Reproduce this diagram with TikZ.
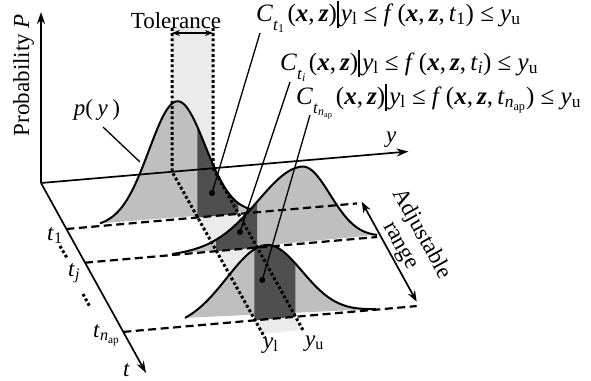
\documentclass[tikz,border=0pt]{standalone}
\usepackage{fontspec}
\setmainfont{Liberation Serif}
\usetikzlibrary{arrows.meta}
\definecolor{cgray}{gray}{0.75}
\definecolor{cdark}{gray}{0.31}
\definecolor{clight}{gray}{0.92}
\newcommand\bx{\textbf{\textit{x}}}
\newcommand\bz{\textbf{\textit{z}}}
\newcommand\sbs[1]{\textsubscript{#1}}
\newcommand\Csub[1]{\raisebox{-0.36em}{\fontsize{17}{17}\selectfont #1}}
\newcommand\vbar{\rule[-0.27em]{0.08em}{1.08em}}
\newcommand\Cf[2]{\textit{C}\Csub{#1}\kern0.12em(\bx,\,\bz)\vbar\kern0.08em\textit{y}\sbs{l} ≤ \textit{f}\,(\bx,\,\bz,\,#2) ≤ \textit{y}\sbs{u}}
\begin{document}
\begin{tikzpicture}[x=1pt,y=-1pt,
  declare function={
    b1(\x)=229-0.088*(\x-66.4);
    b2(\x)=262.7-0.088*(\x-85);
    b3(\x)=331.9-0.088*(\x-123.3);
    c1(\x)=b1(\x)-118*exp(-0.5*((\x-177)/28)^2);
    c2(\x)=b2(\x)-77*exp(-0.5*((\x-302)/((\x<302)?44:28))^2);
    c3(\x)=b3(\x)-74.3*exp(-0.5*((\x-266)/((\x<266)?39:36))^2);
  },
  lbl/.style={inner sep=0pt, font=\fontsize{23}{24}\selectfont},
  frm/.style={inner sep=0pt, anchor=base west, font=\fontsize{25}{26}\selectfont},
  curve/.style={line width=2pt},
  axis/.style={line width=1.7pt, -{Stealth[length=12pt,width=8pt]}},
  base/.style={line width=2.2pt, dash pattern=on 8pt off 4.5pt},
  dots/.style={line width=3pt, dash pattern=on 2.8pt off 2.4pt},
  callout/.style={line width=1.3pt},
  dotn/.style={circle, fill=black, inner sep=0pt, minimum size=6pt},
]
\useasboundingbox (0,0) rectangle (591,380);
% tolerance band
\fill[clight] (172,28) -- (213,28) -- (213,167.9) -- (302.5,330.0) -- (261.5,333.6) -- (172,171.5) -- cycle;
% curve 1
\fill[cgray] plot[domain=100:262,samples=90,smooth] (\x,{c1(\x)}) -- cycle;
\fill[cdark] plot[domain=197.4:238.4,samples=30,smooth] (\x,{c1(\x)}) -- (238.4,{b1(238.4)}) -- (197.4,{b1(197.4)}) -- cycle;
\draw[curve] plot[domain=100:262,samples=90,smooth] (\x,{c1(\x)});
% curve 2
\fill[cgray] plot[domain=172:377,samples=100,smooth] (\x,{c2(\x)}) -- cycle;
\fill[cdark] plot[domain=216:257,samples=30,smooth] (\x,{c2(\x)}) -- (257,{b2(257)}) -- (216,{b2(216)}) -- cycle;
\draw[curve] plot[domain=172:377,samples=100,smooth] (\x,{c2(\x)});
% curve 3
\fill[cgray] plot[domain=185:376,samples=100,smooth] (\x,{c3(\x)}) -- cycle;
\fill[cdark] plot[domain=254.3:295.3,samples=30,smooth] (\x,{c3(\x)}) -- (295.3,{b3(295.3)}) -- (254.3,{b3(254.3)}) -- cycle;
\draw[curve] plot[domain=185:376,samples=100,smooth] (\x,{c3(\x)});
% baselines
\draw[base] (66.4,229) -- (357,{b1(357)});
\draw[base] (85,262.7) -- (377,{b2(377)});
\draw[base] (123.3,331.9) -- (416.7,{b3(416.7)});
% dotted tolerance limits
\draw[dots] (172,28) -- (172,171.5) -- (265,338);
\draw[dots] (213,28) -- (213,167.9) -- (303.5,331);
\draw[dots] (60,246) -- (67,258);
\draw[dots] (83,294) -- (90,307);
% axes
\coordinate (O) at (41,183);
\draw[axis] (O) -- (41,12);
\draw[axis] (O) -- (408.5,151.5);
\draw[axis] (O) -- (146,373);
% tolerance arrow
\draw[line width=1.3pt, {Stealth[length=8pt,width=6pt]}-{Stealth[length=8pt,width=6pt]}] (172,33) -- (213,33);
% adjustable range arrow
\draw[line width=1.7pt, {Stealth[length=11pt,width=8pt]}-{Stealth[length=11pt,width=8pt]}] (361.7,201.7) -- (416.7,301.7);
% labels
\node[lbl, anchor=base] (tol) at (176,28) {Tolerance};
\node[lbl, rotate=90, anchor=base] (prob) at (29,75) {Probability \textit{P}};
\node[lbl, anchor=base] (py) at (97,115) {\textit{p}(\kern0.2em\textit{y}\kern0.2em)};
\node[lbl, anchor=base west] (ylab) at (386,142) {\textit{y}};
\node[lbl, anchor=base west] (t1) at (47,240) {\textit{t}\sbs{1}};
\node[lbl, anchor=base west] (tj) at (68,276) {\textit{t}\sbs{\textit{j}}};
\node[lbl, anchor=base west] (tn) at (93,337) {\textit{t}\sbs{\textit{n}\sbs{ap}}};
\node[lbl, anchor=base west] (tt) at (123,376) {\textit{t}};
\node[lbl, anchor=base west] (yl) at (263,348) {\textit{y}\sbs{l}};
\node[lbl, anchor=base west] (yu) at (305,346) {\textit{y}\sbs{u}};
\node[lbl, rotate=-61, align=center] (adj) at (411,240) {Adjustable\\range};
\node[frm] (f1) at (256,21) {\Cf{\textit{t}\sbs{1}}{\textit{t}\sbs{1}}};
\node[frm] (f2) at (280,70) {\Cf{\textit{t}\sbs{\textit{i}}}{\textit{t}\sbs{\textit{i}}}};
\node[frm] (f3) at (296,104) {\Cf{\textit{t}\sbs{\textit{n}\sbs{ap}}}{\textit{t}\sbs{\textit{n}\sbs{ap}}}};
% callouts
\node[dotn] (d1) at (212,193) {};
\node[dotn] (d2) at (240,232) {};
\node[dotn] (d3) at (262.3,280) {};
\coordinate (s1) at (260,33);
\coordinate (s2) at (290,82);
\coordinate (s3) at (310,115);
\coordinate (sp) at (103,127);
\coordinate (ep) at (140,162);
\draw[callout] (s1) -- (d1.center);
\draw[callout] (s2) -- (d2.center);
\draw[callout] (s3) -- (d3.center);
\draw[callout] (sp) -- (ep);
\end{tikzpicture}
\end{document}
